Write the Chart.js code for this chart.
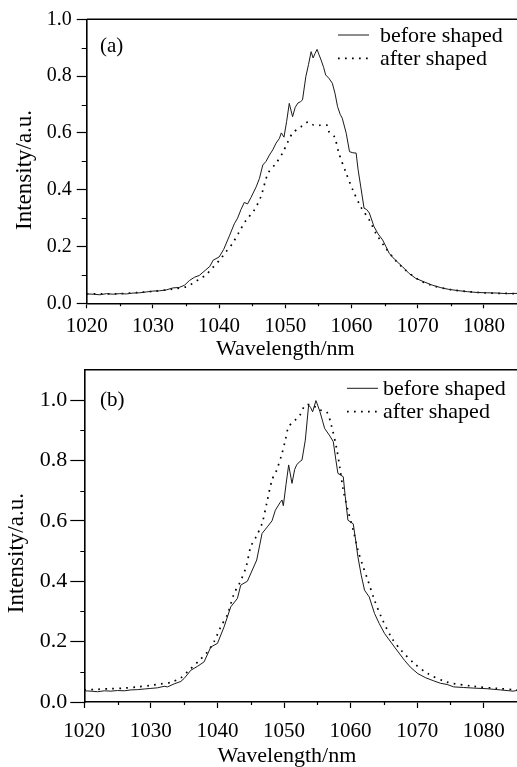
<!DOCTYPE html>
<html>
<head>
<meta charset="utf-8">
<script src="https://cdn.jsdelivr.net/npm/chart.js@4.4.1/dist/chart.umd.min.js"></script>
<style>
  html, body { margin: 0; padding: 0; background: #fff; overflow: hidden; }
  #wrapA { position: absolute; left: 0; top: 0; width: 517px; height: 365px; }
  #wrapB { position: absolute; left: 0; top: 365px; width: 517px; height: 405px; }
</style>
</head>
<body>
<div id="wrapA"><canvas id="chartA"></canvas></div>
<div id="wrapB"><canvas id="chartB"></canvas></div>
<script>
// (a) before shaped
const aBeforeX = [1020, 1021, 1022, 1023, 1024, 1025, 1026, 1027, 1028, 1029, 1030, 1031, 1032, 1033, 1034, 1034.8, 1035.5, 1036.3, 1037, 1038, 1038.6, 1039.1, 1040, 1040.7, 1041.6, 1042.3, 1042.8, 1043.3, 1043.8, 1044.3, 1044.8, 1045.6, 1046.1, 1046.6, 1047.1, 1047.6, 1048.1, 1048.6, 1049.1, 1049.4, 1049.8, 1050.2, 1050.6, 1051.1, 1051.5, 1051.9, 1052.3, 1052.6, 1053.1, 1053.5, 1053.9, 1054.2, 1054.5, 1054.8, 1055.1, 1055.4, 1055.8, 1056.1, 1056.6, 1057.1, 1057.5, 1057.9, 1058.3, 1058.6, 1059.2, 1059.7, 1060.2, 1060.7, 1061.0, 1061.4, 1061.9, 1062.3, 1062.7, 1063.4, 1064, 1064.7, 1065.2, 1065.7, 1066.5, 1067.7, 1068.7, 1069.7, 1071, 1072.2, 1073.5, 1074.7, 1076, 1077.5, 1079, 1080.5, 1082, 1083.5, 1085];
const aBeforeY = [0.033, 0.032, 0.030, 0.034, 0.032, 0.034, 0.033, 0.036, 0.037, 0.040, 0.043, 0.044, 0.047, 0.054, 0.056, 0.064, 0.080, 0.092, 0.098, 0.118, 0.130, 0.152, 0.163, 0.190, 0.240, 0.280, 0.300, 0.330, 0.355, 0.350, 0.372, 0.410, 0.440, 0.487, 0.500, 0.522, 0.540, 0.564, 0.580, 0.600, 0.585, 0.640, 0.704, 0.657, 0.690, 0.705, 0.710, 0.716, 0.798, 0.840, 0.886, 0.864, 0.880, 0.894, 0.875, 0.857, 0.830, 0.804, 0.792, 0.775, 0.740, 0.692, 0.665, 0.652, 0.599, 0.534, 0.530, 0.529, 0.470, 0.410, 0.335, 0.330, 0.318, 0.270, 0.245, 0.223, 0.200, 0.176, 0.155, 0.129, 0.105, 0.088, 0.075, 0.064, 0.055, 0.049, 0.045, 0.041, 0.038, 0.037, 0.036, 0.034, 0.035];

// (a) after shaped
const aAfterX = [1020, 1025, 1030, 1033, 1035, 1036, 1037, 1038, 1039, 1040, 1041, 1042, 1043, 1044, 1045.3, 1046.3, 1047.4, 1048.6, 1049.6, 1050.4, 1051.1, 1052.4, 1053.5, 1054.3, 1055.3, 1056.3, 1056.6, 1057.4, 1058.1, 1059.2, 1060.2, 1061.4, 1062.7, 1063.7, 1065, 1066.5, 1068, 1070, 1072, 1075, 1080, 1085];
const aAfterY = [0.033, 0.034, 0.042, 0.050, 0.058, 0.070, 0.085, 0.100, 0.125, 0.150, 0.180, 0.210, 0.250, 0.290, 0.328, 0.375, 0.458, 0.493, 0.530, 0.569, 0.599, 0.622, 0.639, 0.627, 0.627, 0.627, 0.604, 0.587, 0.528, 0.458, 0.399, 0.340, 0.293, 0.246, 0.200, 0.155, 0.120, 0.085, 0.064, 0.048, 0.037, 0.034];

// (b) before shaped
const bBeforeX = [1020, 1021, 1022, 1023, 1024, 1025, 1026, 1027, 1028, 1029, 1030, 1031, 1032, 1032.5, 1033.5, 1034.5, 1035, 1036, 1037, 1038, 1039, 1040, 1041, 1042, 1043, 1043.5, 1044.5, 1045.9, 1046.7, 1047.5, 1048.2, 1048.7, 1049.4, 1049.7, 1049.9, 1050.3, 1050.7, 1051.2, 1051.6, 1051.9, 1052.3, 1052.7, 1053.2, 1053.7, 1054, 1054.3, 1054.8, 1055.1, 1055.4, 1055.8, 1056.1, 1056.8, 1057.4, 1057.8, 1058.1, 1058.9, 1059.2, 1059.6, 1060.4, 1060.8, 1061.1, 1061.6, 1062.1, 1062.8, 1063.6, 1064.3, 1065.1, 1066.6, 1068.1, 1069, 1070.1, 1071.3, 1072.5, 1073.5, 1074.5, 1075.5, 1077, 1078.5, 1080.5, 1082.5, 1084.4, 1085];
const bBeforeY = [0.037, 0.036, 0.034, 0.037, 0.036, 0.038, 0.037, 0.040, 0.041, 0.043, 0.045, 0.047, 0.052, 0.050, 0.060, 0.068, 0.078, 0.105, 0.118, 0.133, 0.182, 0.194, 0.249, 0.315, 0.343, 0.387, 0.400, 0.470, 0.558, 0.580, 0.600, 0.635, 0.660, 0.669, 0.650, 0.720, 0.785, 0.724, 0.770, 0.785, 0.795, 0.801, 0.867, 0.983, 0.975, 0.961, 0.998, 0.980, 0.961, 0.930, 0.906, 0.884, 0.862, 0.800, 0.757, 0.746, 0.680, 0.602, 0.590, 0.530, 0.481, 0.420, 0.370, 0.348, 0.293, 0.260, 0.227, 0.182, 0.138, 0.115, 0.094, 0.080, 0.070, 0.062, 0.058, 0.050, 0.048, 0.046, 0.044, 0.040, 0.036, 0.038];

// (b) after shaped
const bAfterX = [1020, 1022, 1024, 1026, 1028, 1030, 1031.5, 1033, 1034.5, 1035.5, 1037.3, 1038.5, 1039.5, 1040.5, 1041.5, 1042.5, 1043.3, 1044.3, 1045.0, 1045.8, 1046.7, 1047.4, 1048.2, 1048.9, 1049.7, 1050.2, 1050.7, 1051.7, 1052.4, 1053.2, 1054.2, 1055.4, 1056.4, 1057.1, 1057.9, 1058.4, 1058.9, 1059.6, 1060.4, 1061.1, 1061.9, 1062.6, 1063.6, 1064.6, 1066.1, 1067.6, 1069.6, 1071.6, 1074.5, 1078.5, 1082, 1085];
const bAfterY = [0.040, 0.042, 0.044, 0.046, 0.050, 0.055, 0.060, 0.065, 0.080, 0.100, 0.138, 0.166, 0.200, 0.249, 0.290, 0.359, 0.392, 0.447, 0.514, 0.547, 0.591, 0.658, 0.735, 0.768, 0.823, 0.867, 0.911, 0.934, 0.950, 0.983, 0.983, 0.967, 0.961, 0.917, 0.840, 0.774, 0.702, 0.635, 0.569, 0.503, 0.447, 0.403, 0.337, 0.282, 0.215, 0.171, 0.127, 0.094, 0.066, 0.052, 0.045, 0.040];

const xTickLabels = [1020, 1030, 1040, 1050, 1060, 1070, 1080];
const yTickLabels = [0.0, 0.2, 0.4, 0.6, 0.8, 1.0];
const seriesNames = ['before shaped', 'after shaped'];

const FONT = "'Liberation Serif', 'Times New Roman', serif";

function points(xs, ys) {
  return xs.map((x, i) => ({ x: x, y: ys[i] }));
}

// top border, minor ticks, panel label and the in-plot legend
const framePlugin = {
  id: 'frame',
  afterDraw(chart, args, o) {
    const ctx = chart.ctx, area = chart.chartArea;
    const xs = chart.scales.x, ys = chart.scales.y;
    ctx.save();
    ctx.strokeStyle = '#000';
    ctx.lineWidth = 1.5;
    ctx.beginPath();
    ctx.moveTo(area.left, area.top);
    ctx.lineTo(area.right, area.top);
    ctx.stroke();

    ctx.lineWidth = 1.2;
    ctx.beginPath();
    for (let v = 1025; v < xs.max; v += 10) {
      const px = Math.round(xs.getPixelForValue(v)) + 0.5;
      ctx.moveTo(px, area.bottom);
      ctx.lineTo(px, area.bottom + o.minorX);
    }
    for (let k = 1; k < Math.round(ys.max * 10); k += 2) {
      const py = Math.round(ys.getPixelForValue(k / 10)) + 0.5;
      ctx.moveTo(area.left, py);
      ctx.lineTo(area.left - o.minorY, py);
    }
    ctx.stroke();

    ctx.fillStyle = '#000';
    ctx.textBaseline = 'middle';
    ctx.font = '21px ' + FONT;
    ctx.fillText(o.panel, o.panelX, o.panelY);

    ctx.font = '22px ' + FONT;
    chart.data.datasets.forEach((ds, i) => {
      const y = o.legendY + i * 23.3;
      ctx.strokeStyle = ds.borderColor;
      ctx.lineWidth = ds.borderWidth;
      ctx.setLineDash(ds.borderDash || []);
      ctx.beginPath();
      ctx.moveTo(o.lineX0, y);
      ctx.lineTo(o.lineX1, y);
      ctx.stroke();
      ctx.setLineDash([]);
      ctx.fillText(ds.label, o.textX, y + 1);
    });
    ctx.restore();
  }
};

function createSpectrum(el, beforeX, beforeY, afterX, afterY, cfg) {
  return new Chart(el, {
    type: 'line',
    data: {
      datasets: [{
        label: seriesNames[0],
        data: points(beforeX, beforeY),
        borderColor: '#1a1a1a',
        borderWidth: 1,
        pointRadius: 0,
        tension: 0
      }, {
        label: seriesNames[1],
        data: points(afterX, afterY),
        borderColor: '#000',
        borderWidth: 1.7,
        borderDash: [1.7, 5.3],
        pointRadius: 0,
        tension: 0.3
      }]
    },
    options: {
      animation: false,
      responsive: true,
      maintainAspectRatio: false,
      layout: { padding: { top: cfg.top, right: 0, bottom: 0, left: 0 } },
      plugins: { legend: { display: false }, tooltip: { enabled: false }, frame: cfg.frame },
      scales: {
        x: {
          type: 'linear',
          min: 1020,
          max: 1085,
          afterBuildTicks: s => { s.ticks = xTickLabels.map(v => ({ value: v })); },
          afterFit: s => { s.height = cfg.xHeight; s.paddingLeft = 0; s.paddingRight = 0; },
          ticks: { color: '#000', font: { family: FONT, size: 21 }, padding: cfg.xPad, maxRotation: 0, callback: v => String(v) },
          grid: { display: true, drawOnChartArea: false, tickLength: cfg.xTick, tickWidth: 1.2, color: '#000' },
          border: { color: '#000', width: 1.6 },
          title: { display: true, text: 'Wavelength/nm' + cfg.xSpaces, color: '#000', font: { family: FONT, size: 22 }, padding: { top: 0, bottom: cfg.xTitlePad } }
        },
        y: {
          min: 0,
          max: cfg.yMax,
          afterBuildTicks: s => { s.ticks = yTickLabels.map(v => ({ value: v })); },
          afterFit: s => { s.width = cfg.yWidth; s.paddingTop = 0; s.paddingBottom = 0; },
          ticks: { color: '#000', font: { family: FONT, size: cfg.yFont }, padding: cfg.yPad, callback: v => v.toFixed(1) },
          grid: { display: true, drawOnChartArea: false, tickLength: cfg.yTick, tickWidth: 1.2, color: '#000' },
          border: { color: '#000', width: 1.6 },
          title: { display: true, text: 'Intensity/a.u.' + cfg.ySpaces, color: '#000', font: { family: FONT, size: 23 }, padding: { top: cfg.yTitlePad, bottom: 0 } }
        }
      }
    },
    plugins: [framePlugin]
  });
}

createSpectrum(document.getElementById('chartA'), aBeforeX, aBeforeY, aAfterX, aAfterY, {
  top: 19.3, yMax: 1.0, xHeight: 61.7, yWidth: 86.7,
  xPad: 5.5, xTick: 5, xTitlePad: 2.5, xSpaces: '      ',
  yFont: 20, yPad: 5, yTick: 10, yTitlePad: 11.4, ySpaces: '   ',
  frame: { minorX: 3, minorY: 5, panel: '(a)', panelX: 100, panelY: 46,
           legendY: 35, lineX0: 338, lineX1: 369, textX: 380 }
});

createSpectrum(document.getElementById('chartB'), bBeforeX, bBeforeY, bAfterX, bAfterY, {
  top: 4.8, yMax: 1.1, xHeight: 68, yWidth: 84.3,
  xPad: 10.8, xTick: 6, xTitlePad: 0.9, xSpaces: '     ',
  yFont: 22, yPad: 3, yTick: 14, yTitlePad: 3.4, ySpaces: '      ',
  frame: { minorX: 3, minorY: 4, panel: '(b)', panelX: 100, panelY: 35,
           legendY: 23.3, lineX0: 347, lineX1: 378, textX: 383 }
});
</script>
</body>
</html>
